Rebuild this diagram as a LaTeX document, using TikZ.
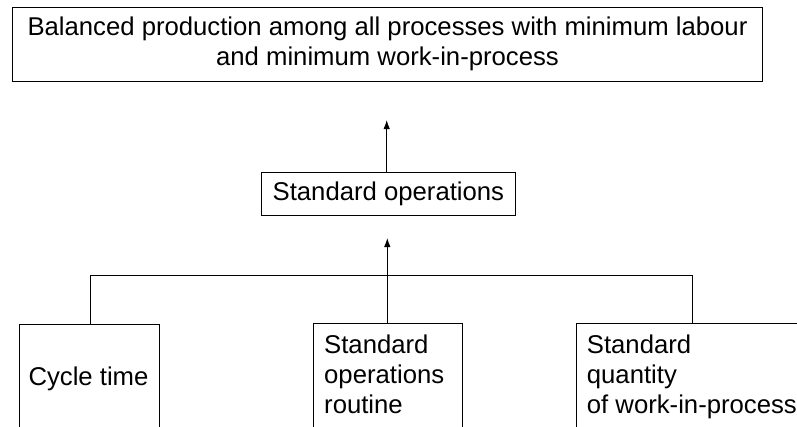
\documentclass[tikz,border=0pt]{standalone}
\usepackage{fontspec}
\setmainfont{Liberation Sans}
\usetikzlibrary{arrows.meta}
\tikzset{
  box/.style={draw, line width=1pt, inner sep=0pt},
  txt/.style={font=\fontsize{25.7}{30.2}\selectfont},
  lbl/.style={txt, anchor=north west, inner sep=0pt, align=left},
  conn/.style={line width=1pt},
  up/.style={conn, -{Latex[length=9pt,width=6.5pt]}},
}
\begin{document}
\begin{tikzpicture}[x=1pt,y=-1pt]
\useasboundingbox (0,0) rectangle (797,426);
\clip (0,0) rectangle (797,426);
% top goal box
\node[box, txt, minimum width=750.7pt, minimum height=73.7pt, align=center] (goal) at (387.5,44.2)
  {Balanced production among all processes with minimum labour\\and minimum work-in-process};
% standard operations
\node[box, txt, minimum width=254.7pt, minimum height=42.3pt] (std) at (388.4,193.9) {Standard operations};
\coordinate (a1) at (386.7,120);
\draw[up] (a1 |- std.north) -- (a1);
% bottom boxes
\node[box, anchor=north west, minimum width=140pt, minimum height=150pt] (cyc) at (19,324) {};
\node[box, anchor=north west, minimum width=149pt, minimum height=150pt] (sor) at (313.3,323) {};
\node[box, anchor=north west, minimum width=260pt, minimum height=150pt] (sqw) at (575.7,323) {};
\node[txt, anchor=base west, inner sep=0pt] (cyct) at (28.3,385) {Cycle time};
\node[lbl] (sort) at (324,334.2) {Standard\\operations\\routine};
\node[lbl] (sqwt) at (586.7,334.2) {Standard\\quantity\\of work-in-process};
% connectors
\coordinate (bar) at (0,275.7);
\coordinate (lv) at (90.7,324);
\coordinate (rv) at (692.3,323);
\draw[conn] (lv) |- (rv |- bar) -- (rv);
\coordinate (a2) at (387.3,238);
\draw[up] (a2 |- sor.north) -- (a2);
\end{tikzpicture}
\end{document}
